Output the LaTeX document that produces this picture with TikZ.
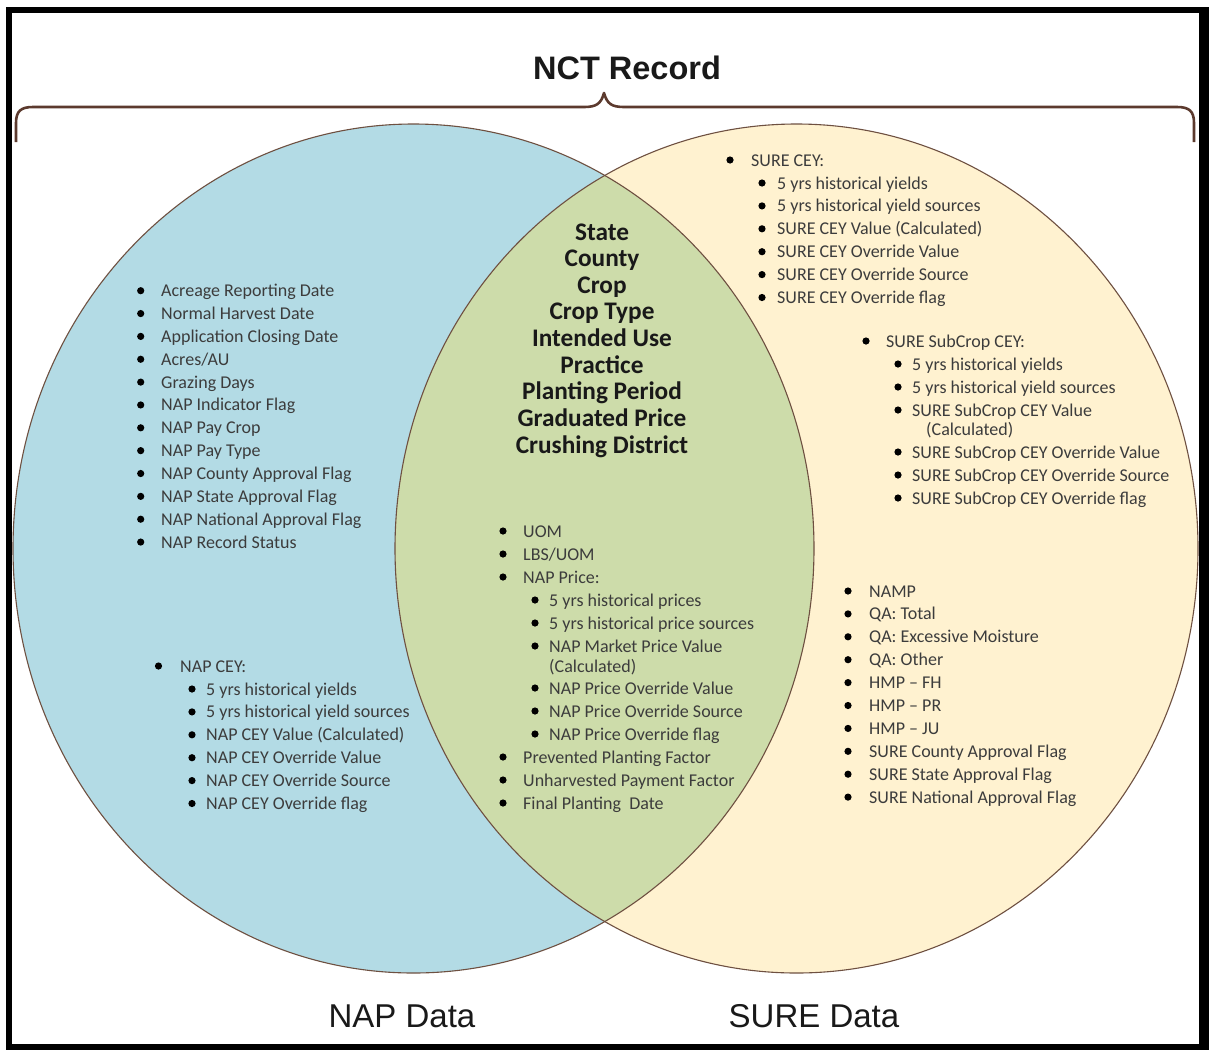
\documentclass[tikz,border=0pt]{standalone}
\usepackage{fontspec}
\setmainfont{Carlito}
\newfontfamily\arialfont{Liberation Sans}
\definecolor{napblue}{RGB}{179,219,229}
\definecolor{surebeige}{RGB}{255,242,208}
\definecolor{bothgreen}{RGB}{205,220,170}
\definecolor{edgebrown}{RGB}{110,80,65}
\definecolor{bracebrown}{RGB}{92,58,46}
\definecolor{txtgray}{RGB}{60,60,60}
\tikzset{
  itm/.style={anchor=base west, inner sep=0pt, font=\fontsize{18}{22}\selectfont, text=txtgray},
  keyw/.style={anchor=base, inner sep=0pt, font=\fontsize{25.3}{28}\selectfont\bfseries, text=black!90},
  bigl/.style={anchor=base, inner sep=0pt, font=\arialfont\fontsize{33}{36}\selectfont, text=black!90},
  edge/.style={draw=edgebrown, line width=1.1pt},
}
\newcommand\bl[5]{\fill (#2,#4) circle (3.6); \node[itm] (#1) at (#3,#4+6) {#5};}
\begin{document}
\begin{tikzpicture}[x=1pt,y=-1pt]
\useasboundingbox (0,0) rectangle (1209,1053);
% frame
\fill[black] (6,7) rectangle (1209,1050);
\fill[white] (12,13) rectangle (1199,1044);
% ellipses
\fill[napblue] (413.5,548.5) ellipse [x radius=400.5, y radius=424.5];
\fill[surebeige] (796.5,548.5) ellipse [x radius=401.5, y radius=424.5];
\begin{scope}
  \clip (413.5,548.5) ellipse [x radius=400.5, y radius=424.5];
  \fill[bothgreen] (796.5,548.5) ellipse [x radius=401.5, y radius=424.5];
\end{scope}
\draw[edge] (413.5,548.5) ellipse [x radius=400.5, y radius=424.5];
\draw[edge] (796.5,548.5) ellipse [x radius=401.5, y radius=424.5];
% brace
\draw[bracebrown, line width=2.6pt, line join=round]
  (16,142) -- (16,123) .. controls (16,111) and (21,107) .. (33,107) -- (584,107)
  .. controls (596,107) and (601,104) .. (604,93)
  .. controls (607,104) and (612,107) .. (624,107) -- (1177,107)
  .. controls (1189,107) and (1194,111) .. (1194,123) -- (1194,142);
\node[anchor=base, inner sep=0pt, font=\arialfont\bfseries\fontsize{32.5}{36}\selectfont, text=black!90] (title) at (627,79) {NCT Record};
\node[bigl] (napdata) at (402,1027) {NAP Data};
\node[bigl] (suredata) at (814,1027) {SURE Data};
% shared keys
\foreach \t [count=\i from 0] in {State,County,Crop,Crop Type,Intended Use,Practice,Planting Period,Graduated Price,Crushing District}{
  \pgfmathsetmacro\yy{240+26.65*\i}
  \node[keyw] (K\i) at (602,\yy) {\t};
}
% NAP list
\foreach \t [count=\i from 0] in {Acreage Reporting Date,Normal Harvest Date,Application Closing Date,Acres/AU,Grazing Days,NAP Indicator Flag,NAP Pay Crop,NAP Pay Type,NAP County Approval Flag,NAP State Approval Flag,NAP National Approval Flag,NAP Record Status}{
  \pgfmathsetmacro\yy{290.7+22.85*\i}
  \fill (140.7,\yy) circle (3.6);
  \node[itm] (N\i) at (161,\yy+6) {\t};
}
\bl{napcey}{158.5}{180}{666}{NAP CEY:}
\foreach \t [count=\i from 0] in {5 yrs historical yields,5 yrs historical yield sources,NAP CEY Value (Calculated),NAP CEY Override Value,NAP CEY Override Source,NAP CEY Override flag}{
  \pgfmathsetmacro\yy{689+22.9*\i}
  \fill (192,\yy) circle (3.6);
  \node[itm] (C\i) at (206,\yy+6) {\t};
}
% center list
\bl{uom}{503}{523}{531}{UOM}
\bl{lbs}{503}{523}{554}{LBS/UOM}
\bl{napprice}{503}{523}{577}{NAP Price:}
\bl{p1}{535}{549}{600}{5 yrs historical prices}
\bl{p2}{535}{549}{623}{5 yrs historical price sources}
\bl{p3}{535}{549}{646}{NAP Market Price Value}
\node[itm] (p3b) at (549,672) {(Calculated)};
\bl{p4}{535}{549}{688}{NAP Price Override Value}
\bl{p5}{535}{549}{711}{NAP Price Override Source}
\bl{p6}{535}{549}{734}{NAP Price Override flag}
\bl{ppf}{503}{523}{757}{Prevented Planting Factor}
\bl{upf}{503}{523}{780}{Unharvested Payment Factor}
\bl{fpd}{503}{523}{803}{Final Planting~ Date}
% SURE CEY
\bl{surecey}{730}{751}{160}{SURE CEY:}
\foreach \t [count=\i from 0] in {5 yrs historical yields,5 yrs historical yield sources,SURE CEY Value (Calculated),SURE CEY Override Value,SURE CEY Override Source,SURE CEY Override flag}{
  \pgfmathsetmacro\yy{183+22.9*\i}
  \fill (762,\yy) circle (3.6);
  \node[itm] (S\i) at (777,\yy+6) {\t};
}
% SURE SubCrop CEY
\bl{subcey}{866}{886}{341}{SURE SubCrop CEY:}
\bl{s1}{898}{912}{364}{5 yrs historical yields}
\bl{s2}{898}{912}{387}{5 yrs historical yield sources}
\bl{s3}{898}{912}{410}{SURE SubCrop CEY Value}
\node[itm] (s3b) at (926,435) {(Calculated)};
\bl{s4}{898}{912}{452}{SURE SubCrop CEY Override Value}
\bl{s5}{898}{912}{475}{SURE SubCrop CEY Override Source}
\bl{s6}{898}{912}{498}{SURE SubCrop CEY Override flag}
% SURE list
\foreach \t [count=\i from 0] in {NAMP,QA: Total,QA: Excessive Moisture,QA: Other,HMP – FH,HMP – PR,HMP – JU,SURE County Approval Flag,SURE State Approval Flag,SURE National Approval Flag}{
  \pgfmathsetmacro\yy{591+22.9*\i}
  \fill (848,\yy) circle (3.6);
  \node[itm] (R\i) at (869,\yy+6) {\t};
}
\end{tikzpicture}
\end{document}
